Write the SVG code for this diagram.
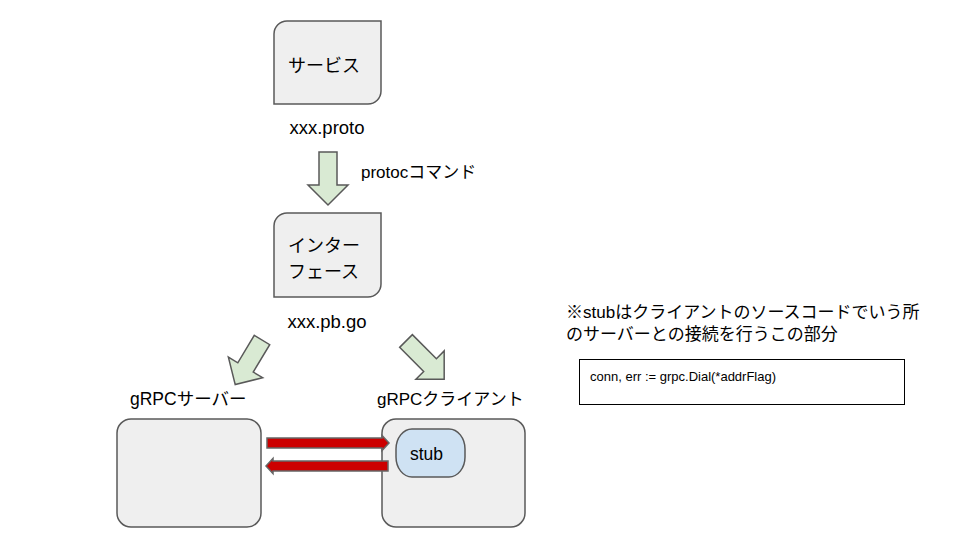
<svg xmlns="http://www.w3.org/2000/svg" width="960" height="540" viewBox="0 0 960 540">
<style>
text{font-family:"Liberation Sans","Noto Sans CJK JP",sans-serif;fill:#000}
.box{fill:#efefef;stroke:#595959;stroke-width:1.5}
.stub{fill:#cfe2f3;stroke:#595959;stroke-width:1.5}
.green{fill:#d9ead3;stroke:#595959;stroke-width:1.5;stroke-linejoin:miter}
.red{fill:#cc0000;stroke:#666666;stroke-width:1.5}
.code{fill:#ffffff;stroke:#000;stroke-width:1}
</style>
<rect width="960" height="540" fill="#ffffff"/>
<g id="service">
<path class="box" d="M274,34 A13,13 0 0 1 287,21 H381 V91 A13,13 0 0 1 368,104 H274 Z"/>
<text x="288" y="72" font-size="18">サービス</text>
</g>
<g id="proto-label"><text x="327" y="134" font-size="18.5" text-anchor="middle">xxx.proto</text></g>
<g id="protoc-label"><text x="361" y="178" font-size="17">protocコマンド</text></g>
<g id="interface">
<path class="box" d="M274,226 A13,13 0 0 1 287,213 H381 V284 A13,13 0 0 1 368,297 H274 Z"/>
<text x="288" y="252" font-size="18">インター</text>
<text x="288" y="278" font-size="18">フェース</text>
</g>
<g id="pbgo-label"><text x="327" y="328" font-size="18.5" text-anchor="middle">xxx.pb.go</text></g>
<g id="server">
<text x="130" y="405" font-size="17.5">gRPCサーバー</text>
<rect class="box" x="117" y="419" width="144" height="108" rx="14"/>
</g>
<g id="client">
<text x="377" y="405" font-size="17">gRPCクライアント</text>
<rect class="box" x="382" y="419" width="143" height="108" rx="14"/>
</g>
<g id="stub">
<rect class="stub" x="396" y="429" width="69" height="48" rx="16" ry="20"/>
<text x="410" y="460" font-size="17.5">stub</text>
</g>
<g id="note">
<text x="566" y="318" font-size="17">※stubはクライアントのソースコードでいう所</text>
<text x="566" y="340" font-size="17">のサーバーとの接続を行うこの部分</text>
</g>
<g id="code">
<rect class="code" x="579.5" y="359.5" width="325" height="45"/>
<text x="590" y="381" font-size="13">conn, err := grpc.Dial(*addrFlag)</text>
</g>
<g id="connectors">
<polygon class="green" transform="translate(328,152)" points="-9,0 9,0 9,33 20,33 0,53 -20,33 -9,33"/>
<polygon class="green" transform="translate(262,340) rotate(31)" points="-9,0 9,0 9,32 20,32 0,52 -20,32 -9,32"/>
<polygon class="green" transform="translate(406,341) rotate(-45)" points="-9,0 9,0 9,34 20,34 0,54 -20,34 -9,34"/>
<polygon class="red" points="267,438 382,438 382,435.5 389,443 382,450.5 382,448 267,448"/>
<polygon class="red" points="388,461 273,461 273,458.5 266,466 273,473.5 273,471 388,471"/>
</g>
</svg>
